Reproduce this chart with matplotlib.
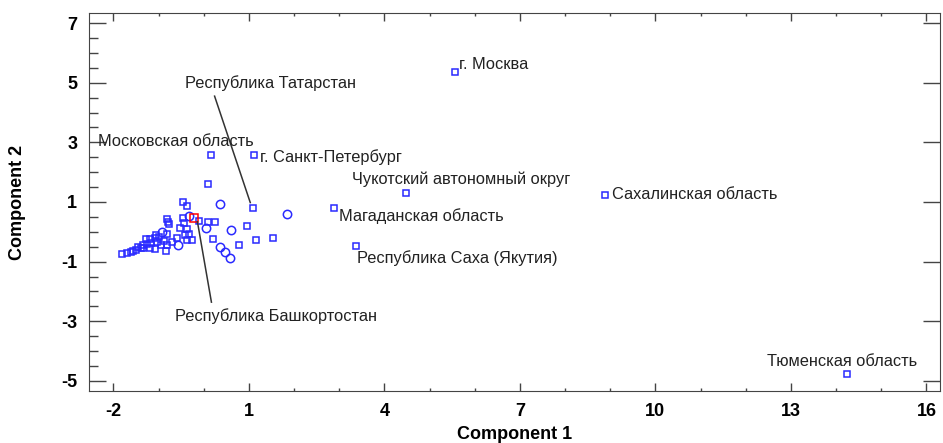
import matplotlib.pyplot as plt
from matplotlib.ticker import MultipleLocator

plt.rcParams['axes.unicode_minus'] = False

# Component scores, hollow square regions
sq_x = [0.15, 1.12, 5.57, 4.48, 8.88, 2.89, 3.38, 14.24, 1.08,
        0.10, -0.47, -0.38, -0.81, -0.76, -0.45, -0.43, -0.10, 0.10, 0.26,
        0.96, 1.16, 1.54, 0.21, 0.79, -0.52, -0.38, -0.32, -0.41, -0.36,
        -0.25, -0.81, -0.81, -0.83, -1.09, -1.80, -1.71, -1.56, -1.49, -1.40,
        -1.34, -1.34, -1.25, -1.16, -1.27, -1.18, -1.09, -0.98, -1.03, -0.89,
        -1.18, -1.62, -1.45, -0.79, -0.60, -0.95, -1.05, -0.70]
sq_y = [2.59, 2.56, 5.35, 1.31, 1.25, 0.81, -0.47, -4.78, 0.81,
        1.62, 1.01, 0.88, 0.44, 0.27, 0.47, 0.30, 0.37, 0.33, 0.33,
        0.20, -0.27, -0.20, -0.24, -0.44, 0.13, 0.10, -0.07, -0.10, -0.27,
        -0.27, -0.07, -0.44, -0.64, -0.57, -0.74, -0.71, -0.64, -0.61, -0.54,
        -0.54, -0.44, -0.40, -0.37, -0.24, -0.24, -0.20, -0.17, -0.34, -0.30,
        -0.54, -0.67, -0.51, 0.34, -0.20, -0.45, -0.10, -0.35]

# hollow circle regions
ci_x = [0.35, 1.85, 0.61, 0.04, 0.37, 0.46, 0.59, -0.56, -0.92, -0.32]
ci_y = [0.94, 0.61, 0.07, 0.13, -0.51, -0.67, -0.88, -0.44, 0.00, 0.54]

# highlighted region (Bashkortostan)
hl_x = [-0.21]
hl_y = [0.47]

# labels: text, text position (left, centre)
labels = ["г. Москва", "Республика Татарстан", "Московская область",
          "г. Санкт-Петербург", "Чукотский автономный округ",
          "Сахалинская область", "Магаданская область",
          "Республика Саха (Якутия)", "Республика Башкортостан",
          "Тюменская область"]
label_x = [5.66, -0.41, -2.35, 1.25, 3.29, 9.04, 3.00, 3.40, -0.63, 12.47]
label_y = [5.62, 4.98, 3.03, 2.49, 1.75, 1.25, 0.54, -0.88, -2.83, -4.34]

# leader lines: (from label) -> (to point)
leaders = [((0.24, 4.55), (1.03, 0.98)), ((0.17, -2.36), (-0.14, 0.34))]

fig = plt.figure(figsize=(9.43, 4.43), dpi=100)
ax = fig.add_axes([0.0944, 0.1174, 0.9024, 0.8533])

blue = '#2a2aff'
ax.plot(sq_x, sq_y, 's', ms=5, mfc='none', mec=blue, mew=1.1, ls='none')
ax.plot(ci_x, ci_y, 'o', ms=6, mfc='none', mec=blue, mew=1.1, ls='none')
ax.plot(hl_x, hl_y, 's', ms=5.5, mfc='none', mec='red', mew=1.1, ls='none')

for (x0, y0), (x1, y1) in leaders:
    ax.plot([x0, x1], [y0, y1], color='#333333', lw=1.1)

for t, x, y in zip(labels, label_x, label_y):
    ax.text(x, y, t, fontsize=11.8, va='center', ha='left',
            family=['Liberation Sans', 'DejaVu Sans'], color='#222222')

ax.set_xlim(-2.54, 16.3)
ax.set_ylim(-5.34, 7.34)
ax.set_xticks([-2, 1, 4, 7, 10, 13, 16])
ax.set_yticks([-5, -3, -1, 1, 3, 5, 7])
ax.xaxis.set_minor_locator(MultipleLocator(1))
ax.yaxis.set_minor_locator(MultipleLocator(0.5))
ax.tick_params(which='both', direction='in', top=True, right=True,
               color='#444444')
ax.tick_params(axis='x', which='major', length=6, width=1, pad=9)
ax.tick_params(axis='x', which='minor', length=2.5, width=1)
ax.tick_params(axis='y', which='major', length=12, width=1, pad=8.5)
ax.tick_params(axis='y', which='minor', length=6.5, width=1, right=False)
for s in ax.spines.values():
    s.set_color('#444444')

tick_font = ['Liberation Sans', 'DejaVu Sans']
for lab in ax.get_xticklabels() + ax.get_yticklabels():
    lab.set_family(tick_font)
    lab.set_fontweight('bold')
    lab.set_fontsize(13)

ax.set_xlabel('Component 1', family=tick_font, fontweight='bold', fontsize=13,
              labelpad=4)
ax.set_ylabel('Component 2', family=tick_font, fontweight='bold', fontsize=13)
ax.yaxis.set_label_coords(-0.074, 0.5)

plt.savefig('out.png', dpi=100)
plt.close()
